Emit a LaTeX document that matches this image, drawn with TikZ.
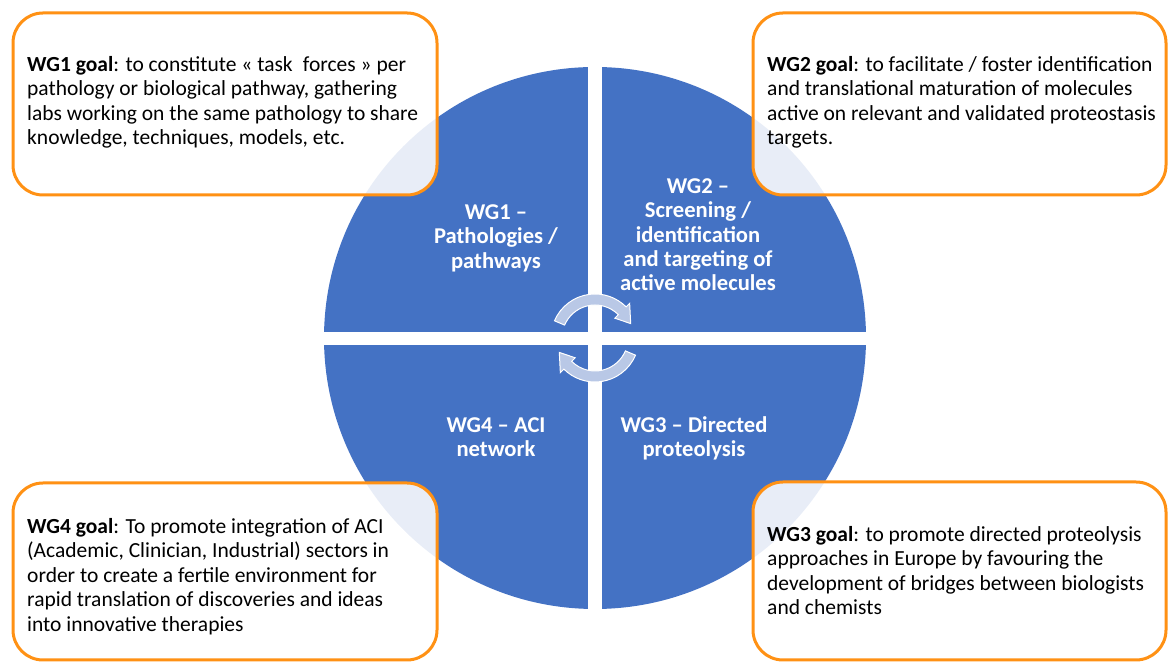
\documentclass[tikz,border=0pt]{standalone}
\usepackage{fontspec}
\setmainfont{Carlito}
\definecolor{wgblue}{RGB}{68,114,196}
\definecolor{wgorange}{RGB}{255,145,20}
\definecolor{arrowfill}{RGB}{185,200,230}
\begin{document}
\begin{tikzpicture}[x=1pt,y=1pt,
  goalbox/.style={draw=wgorange, line width=3pt, rounded corners=30pt, fill=white, fill opacity=0.88, draw opacity=1, inner sep=0pt},
  goaltext/.style={anchor=north west, inner sep=0pt, align=left, font=\fontsize{21.5}{24.5}\selectfont, text=black},
  wglabel/.style={anchor=north, inner sep=0pt, align=center, font=\fontsize{22.6}{24.4}\selectfont\bfseries, text=white},
  cyclearrow/.style={fill=arrowfill, draw=white, line width=1pt}]
\useasboundingbox (0,0) rectangle (1168,663);
% central disc split in four
\fill[wgblue] (595,325) circle[radius=271];
\fill[white] (588,40) rectangle (602,610);
\fill[white] (320,318) rectangle (870,331);
% quadrant labels
\node[wglabel] (l1) at (496,461) {\strut WG1 –\\Pathologies /\\pathways};
\node[wglabel] (l2) at (698,487) {\strut WG2 –\\Screening /\\identification\\and targeting of\\active molecules};
\node[wglabel] (l4) at (496,248) {\strut WG4 – ACI\\network};
\node[wglabel] (l3) at (694,248) {\strut WG3 – Directed\\proteolysis};
% cycle arrows
\begin{scope}[shift={(595,325)}]
\filldraw[cyclearrow] (157:44) arc[start angle=157,end angle=45,radius=44] -- (45:49) -- (22:38.5) -- (45:28) -- (45:33) arc[start angle=45,end angle=157,radius=33] -- cycle;
\filldraw[cyclearrow] (-23:44) arc[start angle=-23,end angle=-135,radius=44] -- (-135:49) -- (-158:38.5) -- (-135:28) -- (-135:33) arc[start angle=-135,end angle=-23,radius=33] -- cycle;
\end{scope}
% goal boxes
\node[goalbox, minimum width=424pt, minimum height=182pt] (b1) at (225,559) {};
\node[goalbox, minimum width=413pt, minimum height=182pt] (b2) at (959.5,559) {};
\node[goalbox, minimum width=424pt, minimum height=177pt] (b4) at (225,91.5) {};
\node[goalbox, minimum width=413pt, minimum height=178pt] (b3) at (959.5,92) {};
% goal texts
\node[goaltext] (t1) at (27,609.15) {\strut\textbf{WG1 goal}: to constitute « task\hspace{0.25em} forces » per\\pathology or biological pathway, gathering\\labs working on the same pathology to share\\knowledge, techniques, models, etc.};
\node[goaltext] (t2) at (767,609.15) {\strut\textbf{WG2 goal}: to facilitate / foster identification\\and translational maturation of molecules\\active on relevant and validated proteostasis\\targets.};
\node[goaltext] (t4) at (27,147.15) {\strut\textbf{WG4 goal}: To promote integration of ACI\\(Academic, Clinician, Industrial) sectors in\\order to create a fertile environment for\\rapid translation of discoveries and ideas\\into innovative therapies};
\node[goaltext] (t3) at (767,139.15) {\strut\textbf{WG3 goal}: to promote directed proteolysis\\approaches in Europe by favouring the\\development of bridges between biologists\\and chemists};
\end{tikzpicture}
\end{document}
